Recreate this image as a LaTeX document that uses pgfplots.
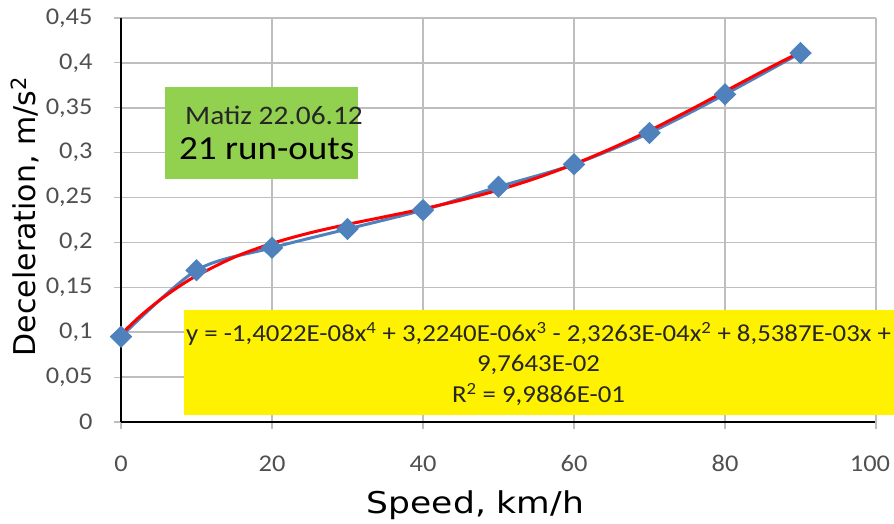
\documentclass[border=0pt]{standalone}
\usepackage{fontspec}
\setmainfont{Carlito}
\newfontfamily\calf{Carlito}[FakeStretch=1.1]
\newfontfamily\dvs{DejaVu Sans}[FakeStretch=1.15]
\newfontfamily\dvn{DejaVu Sans}
\usepackage{pgfplots}
\pgfplotsset{compat=1.18}
\definecolor{exblue}{RGB}{79,129,189}
\definecolor{gridgray}{RGB}{190,190,190}
\definecolor{ticktext}{RGB}{80,80,80}
\definecolor{boxgreen}{RGB}{146,208,80}
\begin{document}
\begin{tikzpicture}
\useasboundingbox (0,0) rectangle (894bp,524bp);
\begin{axis}[
  at={(121bp,102bp)}, anchor=south west,
  scale only axis, width=755bp, height=404bp,
  xmin=0, xmax=100, ymin=0, ymax=0.45,
  xtick={0,20,40,60,80},
  extra x ticks={100},
  extra x tick style={grid=major, xticklabel style={xshift=-6bp}},
  ytick={0,0.05,0.1,0.15,0.2,0.25,0.3,0.35,0.4,0.45},
  axis x line*=bottom, axis y line*=left,
  axis line style={-, black, line width=2.5bp},
  grid=major, grid style={gridgray, line width=1.6bp},
  tick align=outside, major tick length=7bp,
  tick style={gridgray, line width=1.2bp},
  clip=false,
  /pgf/number format/assume math mode=true,
  /pgf/number format/use comma,
  yticklabel style={/pgf/number format/fixed, /pgf/number format/precision=2, xshift=-18bp},
  xticklabel style={yshift=-23bp},
  ticklabel style={font=\calf\fontsize{24bp}{28bp}\selectfont, text=ticktext},
  xlabel={\dvs\fontsize{30bp}{36bp}\selectfont Speed, km/h},
  xlabel style={at={(axis description cs:0.4695,0)}, anchor=base, yshift=-91bp, inner sep=0pt},
  ylabel={\dvn\fontsize{30bp}{36bp}\selectfont Deceleration, m/s\textsuperscript{2}},
  ylabel style={at={(axis description cs:-0.1139,0.5087)}, anchor=base, inner sep=0pt},
]
\addplot[exblue, line width=3bp, smooth, tension=0.5, mark=diamond*, mark size=9bp,
  mark options={xscale=1.35, solid, fill=exblue, draw=exblue}] coordinates {
  (0,0.095) (10,0.169) (20,0.194) (30,0.215) (40,0.236) (50,0.262)
  (60,0.287) (70,0.322) (80,0.365) (90,0.411)};
\addplot[red, line width=3bp, smooth, no marks] coordinates {
  (0,0.097643) (2.5,0.117586) (5,0.134915) (7.5,0.149914) (10,0.162851)
  (15,0.183553) (20,0.198914) (25,0.210615) (30,0.220127) (35,0.228713)
  (40,0.237423) (45,0.247097) (50,0.258365) (55,0.271649) (60,0.287156)
  (65,0.304886) (70,0.324629) (75,0.345962) (80,0.368254) (85,0.390663)
  (90,0.412136)};
\end{axis}
\fill[boxgreen] (165bp,345bp) rectangle (358bp,437bp);
\node[anchor=base west, inner sep=0pt, text=black!85, font=\calf\fontsize{26.7bp}{30bp}\selectfont] at (185bp,399bp) {Matiz 22.06.12};
\node[anchor=base west, inner sep=0pt, text=black, font=\calf\fontsize{33.7bp}{36bp}\selectfont] at (179bp,364bp) {21 run-outs};
\fill[yellow] (184bp,109bp) rectangle (894bp,214bp);
\node[anchor=base, inner sep=0pt, text=black!85, font=\calf\fontsize{24.4bp}{28bp}\selectfont] at (538.5bp,182bp) {y = -1,4022E-08x\textsuperscript{4} + 3,2240E-06x\textsuperscript{3} - 2,3263E-04x\textsuperscript{2} + 8,5387E-03x +};
\node[anchor=base, inner sep=0pt, text=black!85, font=\calf\fontsize{24.4bp}{28bp}\selectfont] at (538.5bp,152bp) {9,7643E-02};
\node[anchor=base, inner sep=0pt, text=black!85, font=\calf\fontsize{24.4bp}{28bp}\selectfont] at (538.5bp,121bp) {R\textsuperscript{2} = 9,9886E-01};
\end{tikzpicture}
\end{document}
